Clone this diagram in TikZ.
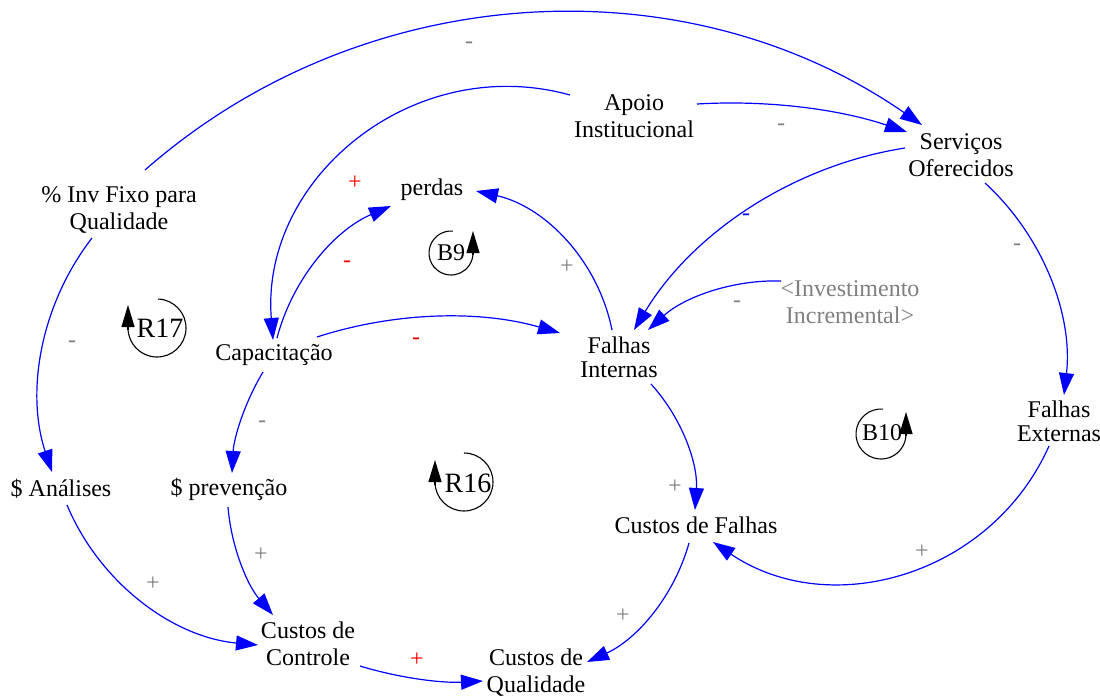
\documentclass[tikz,border=0pt]{standalone}
\usepackage{fontspec}
\setmainfont{Liberation Serif}
\usetikzlibrary{arrows.meta}

\definecolor{linkblue}{RGB}{0,0,255}
\definecolor{signgray}{RGB}{128,128,128}
\definecolor{signred}{RGB}{255,0,0}

\tikzset{
  var/.style={align=center, inner sep=0pt, font=\fontsize{24}{27}\selectfont},
  shadowvar/.style={var, text=signgray},
  link/.style={draw=linkblue, line width=1.2pt, -{Triangle[length=22pt,width=15pt]}},
  sign/.style={inner sep=0pt, font=\fontsize{24}{27}\selectfont},
  posgray/.style={sign, text=signgray},
  posred/.style={sign, text=signred},
  posblue/.style={sign, text=linkblue},
  bname/.style={inner sep=0pt, font=\fontsize{24}{27}\selectfont},
  rname/.style={inner sep=0pt, font=\fontsize{28}{30}\selectfont},
  looparc/.style={draw=black, line width=1.1pt},
  loophead/.style={draw=black, line width=1.1pt, -{Triangle[length=22pt,width=13pt]}},
}

\begin{document}
\begin{tikzpicture}[x=1pt, y=-1pt]
\useasboundingbox (0,0) rectangle (1100,699);

% variables
\node[var] (invfixo)   at (119,210) {\% Inv Fixo para\\Qualidade};
\node[var] (apoio)     at (634,116) {Apoio\\Institucional};
\node[var] (servicos)  at (961,155) {Serviços\\Oferecidos};
\node[var] (perdas)    at (432,190) {perdas};
\node[var] (capac)     at (274,355) {Capacitação};
\node[var] (fint)      at (619,357) {Falhas\\[-3pt]Internas};
\node[shadowvar] (invinc) at (850,302) {<Investimento\\Incremental>};
\node[var] (fext)      at (1059,421) {Falhas\\[-3pt]Externas};
\node[var] (analises)  at (61,489)  {\$ Análises};
\node[var] (prevencao) at (229,489) {\$ prevenção};
\node[var] (cfalhas)   at (696,525) {Custos de Falhas};
\node[var] (ccontrole) at (308,644) {Custos de\\Controle};
\node[var] (cqual)     at (536,673) {Custos de\\Qualidade};

% causal links
\draw[link] ([shift={(26,-40)}]invfixo.center) to[bend left=38, looseness=0.95] ([shift={(-39,-30)}]servicos.center);
\draw[link] ([shift={(-27,28)}]invfixo.center) to[bend right=28, looseness=0.91] ([shift={(-9,-17)}]analises.center);
\draw[link] ([shift={(-64,-21)}]apoio.center) to[bend right=55, looseness=1.08] ([shift={(-1,-15)}]capac.center);
\draw[link] ([shift={(3,-17)}]capac.center) to[bend left=26, looseness=0.9] ([shift={(-41,16)}]perdas.center);
\draw[link] ([shift={(-7,-27)}]fint.center) to[bend right=33, looseness=0.93] ([shift={(44,1)}]perdas.center);
\draw[link] ([shift={(43,-18)}]capac.center) to[bend left=17, looseness=0.87] ([shift={(-59,-24)}]fint.center);
\draw[link] ([shift={(-11,17)}]capac.center) to[bend right=14, looseness=0.86] ([shift={(3,-16)}]prevencao.center);
\draw[link] ([shift={(63,-12)}]apoio.center) to[bend left=11, looseness=0.86] ([shift={(-54,-23)}]servicos.center);
\draw[link] ([shift={(-56,-7)}]servicos.center) to[bend right=25, looseness=0.89] ([shift={(15,-27)}]fint.center);
\draw[link] ([shift={(-69,-21)}]invinc.center) to[bend right=22, looseness=0.88] ([shift={(29,-27)}]fint.center);
\draw[link] ([shift={(24,28)}]servicos.center) to[bend left=27, looseness=0.9] ([shift={(5,-26)}]fext.center);
\draw[link] ([shift={(32,27)}]fint.center) to[bend left=23, looseness=0.89] ([shift={(-1,-15)}]cfalhas.center);
\draw[link] ([shift={(-10,25)}]fext.center) to[bend left=50, looseness=1.04] ([shift={(17,17)}]cfalhas.center);
\draw[link] ([shift={(-7,18)}]cfalhas.center) to[bend left=25, looseness=0.9] ([shift={(51,-11)}]cqual.center);
\draw[link] ([shift={(6,16)}]analises.center) to[bend right=31, looseness=0.92] ([shift={(-50,1)}]ccontrole.center);
\draw[link] ([shift={(-1,18)}]prevencao.center) to[bend right=18, looseness=0.87] ([shift={(-35,-29)}]ccontrole.center);
\draw[link] ([shift={(52,22)}]ccontrole.center) to[bend right=10, looseness=0.86] ([shift={(-53,8)}]cqual.center);

% link polarities
\node[posgray] (s1)  at (469,45)  {-};
\node[posgray] (s2)  at (72,344)  {-};
\node[posred]  (s3)  at (355,183) {+};
\node[posred]  (s4)  at (347,264) {-};
\node[posgray] (s5)  at (567,267) {+};
\node[posred]  (s6)  at (416,341) {-};
\node[posgray] (s7)  at (262,424) {-};
\node[posgray] (s8)  at (781,127) {-};
\node[posblue] (s9)  at (746,217) {-};
\node[posgray] (s10) at (737,304) {-};
\node[posgray] (s11) at (1017,247) {-};
\node[posgray] (s12) at (675,487) {+};
\node[posgray] (s13) at (922,552) {+};
\node[posgray] (s14) at (623,616) {+};
\node[posgray] (s15) at (153,584) {+};
\node[posgray] (s16) at (261,555) {+};
\node[posred]  (s17) at (417,660) {+};

% loop markers
\node[bname] (b9) at (451,253) {B9};
\draw[looparc] (451,253) ++(85:22pt) arc[start angle=85, end angle=360, radius=22pt];
\draw[loophead] (473,255) -- (473,231);

\node[bname] (b10) at (882,433) {B10};
\draw[looparc] (881,434) ++(85:25pt) arc[start angle=85, end angle=360, radius=25pt];
\draw[loophead] (906,436) -- (906,412);

\node[rname] (r17) at (160,328) {R17};
\draw[looparc] (157,328) ++(88:29pt) arc[start angle=88, end angle=-180, radius=29pt];
\draw[loophead] (128,330) -- (128,305);

\node[rname] (r16) at (468,483) {R16};
\draw[looparc] (464,482) ++(90:29pt) arc[start angle=90, end angle=-180, radius=29pt];
\draw[loophead] (435,485) -- (435,460);
\end{tikzpicture}
\end{document}
